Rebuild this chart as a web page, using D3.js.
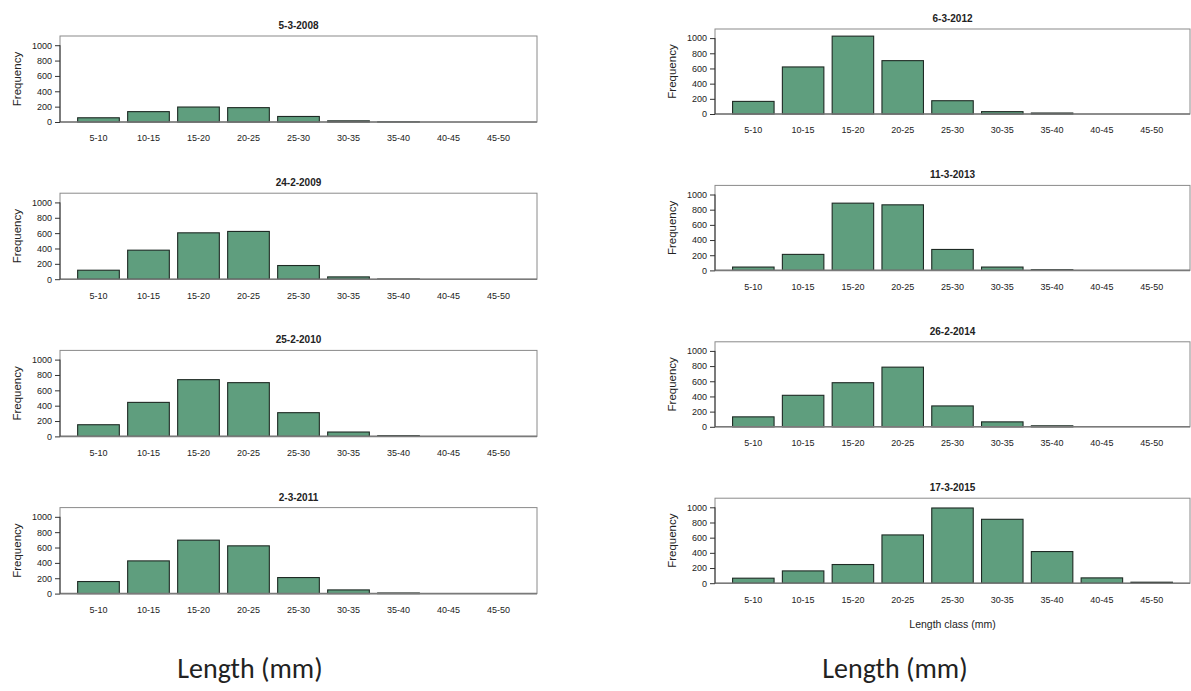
<!DOCTYPE html>
<html>
<head>
<meta charset="utf-8">
<script src="https://cdn.jsdelivr.net/npm/d3@7"></script>
<style>
  body { margin: 0; background: #fff; }
  svg text { font-family: "Liberation Sans", Arial, sans-serif; fill: #222; }
</style>
</head>
<body>
<svg id="chart" width="1191" height="691"></svg>
<script>
// length classes (mm)
const classes = ["5-10", "10-15", "15-20", "20-25", "25-30", "30-35", "35-40", "40-45", "45-50"];
const yTicks = [0, 200, 400, 600, 800, 1000];

// frequencies per sampling date
const f2008 = [55, 135, 195, 187, 72, 15, 2, 0, 0];
const f2009 = [117, 378, 604, 622, 178, 30, 2, 0, 0];
const f2010 = [152, 443, 739, 700, 309, 57, 9, 0, 0];
const f2011 = [157, 426, 696, 622, 209, 48, 8, 0, 0];
const f2012 = [166, 620, 1026, 703, 175, 31, 13, 0, 0];
const f2013 = [44, 211, 886, 864, 276, 44, 9, 0, 0];
const f2014 = [131, 415, 581, 786, 275, 65, 13, 0, 0];
const f2015 = [66, 162, 246, 636, 991, 842, 417, 70, 13];

const leftDates = ["5-3-2008", "24-2-2009", "25-2-2010", "2-3-2011"];
const rightDates = ["6-3-2012", "11-3-2013", "26-2-2014", "17-3-2015"];
const leftSeries = [f2008, f2009, f2010, f2011];
const rightSeries = [f2012, f2013, f2014, f2015];

const svg = d3.select("#chart");
const barFill = "#5f9e7e";

const y = d3.scaleLinear().domain([0, 1120]);

function drawPanel(title, values, x0, x1, top, h, xlabel) {
  const g = svg.append("g");
  const x = d3.scaleBand()
    .domain(classes)
    .range([x0, x1])
    .paddingInner(1 / 6)
    .paddingOuter(0.353);
  const yy = y.copy().range([top + h, top]);

  g.append("rect")
    .attr("x", x0).attr("y", top)
    .attr("width", x1 - x0).attr("height", h)
    .attr("fill", "none")
    .attr("stroke", "#8a8a8a")
    .attr("stroke-width", 1);

  g.selectAll(".bar")
    .data(values)
    .join("rect")
    .attr("class", "bar")
    .attr("x", (d, i) => x(classes[i]))
    .attr("width", x.bandwidth())
    .attr("y", d => yy(d))
    .attr("height", d => yy(0) - yy(d))
    .attr("fill", barFill)
    .attr("stroke", "#1e2a24")
    .attr("stroke-width", 1.1);

  // baseline
  g.append("line")
    .attr("x1", x0).attr("x2", x1)
    .attr("y1", yy(0)).attr("y2", yy(0))
    .attr("stroke", "#7a7a7a")
    .attr("stroke-width", 1.6);

  const yAxis = g.append("g")
    .attr("transform", `translate(${x0},0)`)
    .call(d3.axisLeft(yy).tickValues(yTicks).tickFormat(d3.format("d"))
      .tickSize(5).tickPadding(3).tickSizeOuter(0));
  yAxis.select(".domain").attr("stroke", "#333").attr("d", `M0,${yy(0)}V${yy(1000)}`);
  yAxis.selectAll(".tick line").attr("stroke", "#333");
  yAxis.selectAll("text").style("font-size", "9px").attr("fill", "#222");

  const xAxis = g.append("g")
    .attr("transform", `translate(0,${top + h})`)
    .call(d3.axisBottom(x).tickSize(0).tickPadding(13));
  xAxis.select(".domain").remove();
  xAxis.selectAll("text").style("font-size", "9px").attr("fill", "#222");

  g.append("text")
    .attr("x", (x0 + x1) / 2).attr("y", top - 7)
    .attr("text-anchor", "middle")
    .style("font-size", "10px").style("font-weight", "bold")
    .text(title);

  g.append("text")
    .attr("transform", `translate(${x0 - 39},${top + h / 2}) rotate(-90)`)
    .attr("text-anchor", "middle")
    .style("font-size", "11.5px")
    .text("Frequency");

  if (xlabel) {
    g.append("text")
      .attr("x", (x0 + x1) / 2).attr("y", top + h + 45)
      .attr("text-anchor", "middle")
      .style("font-size", "10.5px")
      .text(xlabel);
  }
}

leftDates.forEach((d, i) => drawPanel(d, leftSeries[i], 60, 537, 36 + i * 157.2, 86));
rightDates.forEach((d, i) => drawPanel(d, rightSeries[i], 715, 1190, 29 + i * 156.4, 85,
  i === 3 ? "Length class (mm)" : null));

// big column captions
[250, 895].forEach(cx => {
  svg.append("text")
    .attr("x", cx).attr("y", 678)
    .attr("text-anchor", "middle")
    .style("font-family", "Carlito, Calibri, Lato, sans-serif")
    .style("font-size", "28px")
    .text("Length (mm)");
});
</script>
</body>
</html>
